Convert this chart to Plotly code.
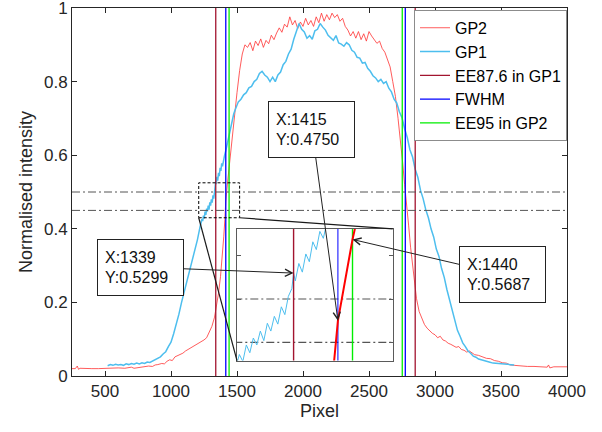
import plotly.graph_objects as go

# ---------------- data ----------------
gp2_x = [
    250, 275, 290, 300, 310, 350, 400, 450, 500, 550,
    600, 650, 700, 720, 750, 800, 830, 860, 880, 900,
    930, 950, 970, 990, 1010, 1030, 1050, 1070, 1090, 1110,
    1130, 1150, 1170, 1190, 1210, 1230, 1250, 1270, 1290, 1310,
    1330, 1345, 1360, 1375, 1390, 1400, 1408, 1415, 1428, 1440,
    1452, 1465, 1480, 1500, 1520, 1540,
    1560, 1580, 1600, 1620, 1640, 1660, 1680, 1700, 1720, 1740,
    1760, 1780, 1800, 1820, 1840, 1860, 1880, 1900, 1920, 1940,
    1960, 1980, 2000, 2020, 2040, 2060, 2080, 2100, 2120, 2140,
    2160, 2180, 2200, 2220, 2240, 2260, 2280, 2300, 2320, 2340,
    2360, 2380, 2400, 2420, 2440, 2460, 2480, 2500, 2520, 2540,
    2560, 2580, 2600, 2620, 2640,
    2660, 2680, 2700, 2720, 2740, 2755, 2770, 2785, 2800, 2815,
    2830, 2845, 2860, 2880, 2900, 2920, 2940, 2960, 2980, 3000,
    3020, 3040, 3060, 3080, 3100, 3120, 3140, 3160, 3180, 3200,
    3220, 3240, 3260, 3280, 3300, 3330, 3360, 3390, 3420, 3450,
    3480, 3510, 3540, 3570, 3600, 3650, 3700, 3750, 3800, 3850,
    3860, 3870, 3900, 3950, 4000]
gp2_y = [
    0.020, 0.020, 0.027, 0.018, 0.021, 0.020, 0.020, 0.020, 0.021, 0.020,
    0.022, 0.021, 0.024, 0.021, 0.023, 0.025, 0.027, 0.026, 0.030, 0.031,
    0.034, 0.033, 0.040, 0.044, 0.042, 0.052, 0.055, 0.060, 0.062, 0.068,
    0.072, 0.076, 0.081, 0.085, 0.088, 0.094, 0.098, 0.104, 0.118, 0.135,
    0.160, 0.190, 0.225, 0.270, 0.330, 0.380, 0.425, 0.475, 0.525, 0.5687,
    0.605, 0.650, 0.700, 0.770, 0.830, 0.875,
    0.900, 0.893, 0.906, 0.884, 0.910, 0.898, 0.916, 0.893, 0.912, 0.903,
    0.926, 0.914, 0.932, 0.946, 0.934, 0.956, 0.948, 0.976, 0.954, 0.966,
    0.944, 0.962, 0.950, 0.972, 0.954, 0.966, 0.950, 0.976, 0.960, 0.986,
    0.964, 0.982, 0.968, 0.986, 0.974, 0.982, 0.964, 0.972, 0.950, 0.940,
    0.924, 0.936, 0.918, 0.936, 0.914, 0.930, 0.910, 0.936, 0.924, 0.914,
    0.904, 0.910, 0.890, 0.880, 0.860,
    0.840, 0.800, 0.760, 0.700, 0.640, 0.580, 0.520, 0.470, 0.410, 0.350,
    0.300, 0.250, 0.210, 0.175, 0.155, 0.140, 0.130, 0.122, 0.116, 0.112,
    0.104, 0.108, 0.098, 0.095, 0.089, 0.086, 0.082, 0.078, 0.080, 0.072,
    0.070, 0.065, 0.068, 0.062, 0.058, 0.056, 0.051, 0.048, 0.047, 0.042,
    0.040, 0.036, 0.035, 0.030, 0.029, 0.027, 0.026, 0.026, 0.025, 0.024,
    0.030, 0.022, 0.025, 0.025, 0.025]

gp1_x = [
    520, 540, 560, 580, 600, 620, 640, 660, 680, 700,
    720, 740, 760, 780, 800, 820, 840, 860, 880, 900,
    920, 940, 960, 980, 1000, 1020, 1040, 1060, 1080, 1100,
    1120, 1140, 1160, 1180, 1200, 1220,
    1228, 1234, 1240, 1246, 1252, 1258, 1264, 1270, 1276, 1282,
    1288, 1294, 1300, 1306, 1312, 1318, 1324, 1330, 1336, 1339,
    1342, 1348, 1354, 1360, 1366, 1372, 1378, 1384, 1390, 1396,
    1405, 1415, 1425, 1435, 1445, 1455, 1465, 1475, 1485, 1495,
    1510, 1530, 1550, 1570, 1590, 1610, 1630, 1650, 1670, 1690,
    1710, 1730, 1750, 1770, 1790, 1810, 1830, 1850, 1870, 1890,
    1910, 1930, 1950, 1970, 1990, 2010, 2030, 2050, 2070, 2090,
    2110, 2130, 2150, 2170, 2190, 2210, 2230, 2250, 2270, 2290,
    2310, 2330, 2350, 2370, 2390, 2410, 2430, 2450, 2470, 2490,
    2510, 2530, 2550, 2570, 2590, 2610, 2630, 2650, 2670, 2690,
    2710, 2730, 2750, 2770, 2790, 2810, 2830, 2850, 2870, 2890,
    2910, 2930, 2950, 2970, 2990, 3010, 3030, 3050, 3070, 3090,
    3110, 3130, 3150, 3170, 3190, 3210, 3230, 3250, 3270, 3290,
    3310, 3330, 3350, 3380, 3410, 3440, 3470, 3500, 3530, 3560,
    3590, 3600]
gp1_y = [
    0.028, 0.031, 0.029, 0.032, 0.030, 0.031, 0.029, 0.033, 0.031, 0.034,
    0.032, 0.035, 0.033, 0.036, 0.034, 0.038, 0.037, 0.041, 0.043, 0.048,
    0.052, 0.060, 0.066, 0.080, 0.092, 0.115, 0.140, 0.168, 0.200, 0.228,
    0.255, 0.283, 0.312, 0.342, 0.370, 0.405,
    0.418, 0.426, 0.421, 0.436, 0.428, 0.447, 0.438, 0.455, 0.447, 0.463,
    0.452, 0.472, 0.463, 0.480, 0.471, 0.491, 0.482, 0.503, 0.512, 0.5299,
    0.521, 0.541, 0.531, 0.552, 0.543, 0.566, 0.557, 0.578, 0.570, 0.588,
    0.598, 0.612, 0.628, 0.648, 0.668, 0.684, 0.700, 0.712, 0.722, 0.732,
    0.745, 0.752, 0.764, 0.770, 0.783, 0.787, 0.800, 0.806, 0.822, 0.828,
    0.818, 0.812, 0.800, 0.812, 0.800, 0.818, 0.826, 0.846, 0.855, 0.875,
    0.888, 0.915, 0.935, 0.958, 0.942, 0.935, 0.918, 0.925, 0.915, 0.938,
    0.942, 0.958, 0.948, 0.940, 0.926, 0.920, 0.912, 0.925, 0.905, 0.902,
    0.896, 0.906, 0.900, 0.885, 0.880, 0.866, 0.864, 0.850, 0.852, 0.836,
    0.828, 0.816, 0.810, 0.800, 0.806, 0.795, 0.800, 0.782, 0.772, 0.752,
    0.742, 0.718, 0.702, 0.672, 0.648, 0.615, 0.595, 0.562, 0.540, 0.505,
    0.482, 0.452, 0.430, 0.400, 0.378, 0.345, 0.325, 0.292, 0.268, 0.235,
    0.208, 0.175, 0.150, 0.124, 0.108, 0.090, 0.080, 0.068, 0.062, 0.054,
    0.051, 0.046, 0.044, 0.040, 0.038, 0.035, 0.034, 0.032, 0.032, 0.030,
    0.030, 0.030]

ee876_x = [1339, 2850]      # EE87.6 in GP1
fwhm_x = [1415, 2775]       # FWHM
ee95_x = [1440, 2752]       # EE95 in GP2
h_levels = [0.5, 0.45]

tip_x = [1339, 1415, 1440]
tip_y = [0.5299, 0.4750, 0.5687]

x_range = [250, 4000]
y_range = [0, 1]
x_ticks = [500, 1000, 1500, 2000, 2500, 3000, 3500, 4000]
y_ticks = [0, 0.2, 0.4, 0.6, 0.8, 1]
y_ticklabels = ["0", "0.2", "0.4", "0.6", "0.8", "1"]

zoom_box = [1210, 1520, 0.43, 0.525]          # dashed rectangle (data coords)
inset_x_range = [1242, 1509]
inset_y_range = [0.429, 0.581]
inset_place = [1500, 2680, 0.042, 0.40]        # inset location in main data coords

# ---------------- colours ----------------
C_GP2 = "#ff0000"
C_GP1 = "#4DBEEE"
C_EE876 = "#A2142F"
C_FWHM = "#0000ff"
C_EE95 = "#00ee00"
C_AX = "#262626"
C_DD = "#555555"

AXFONT = "Liberation Sans, Arial, sans-serif"
TIPFONT = "Liberation Sans, Arial, sans-serif"


def vlines(xs, y0, y1):
    X, Y = [], []
    for v in xs:
        X += [v, v, None]
        Y += [y0, y1, None]
    return X, Y


fig = go.Figure()

# main plot
fig.add_trace(go.Scatter(x=gp2_x, y=gp2_y, mode="lines", name="GP2",
                         line=dict(color=C_GP2, width=0.8), opacity=0.8))
fig.add_trace(go.Scatter(x=gp1_x, y=gp1_y, mode="lines", name="GP1",
                         line=dict(color=C_GP1, width=1.5)))
for xs, nm, col in [(ee876_x, "EE87.6 in GP1", C_EE876),
                    (fwhm_x, "FWHM", C_FWHM),
                    (ee95_x, "EE95 in GP2", C_EE95)]:
    vx, vy = vlines(xs, y_range[0], y_range[1])
    fig.add_trace(go.Scatter(x=vx, y=vy, mode="lines", name=nm,
                             line=dict(color=col, width=1.3)))
for h in h_levels:
    fig.add_trace(go.Scatter(x=x_range, y=[h, h], mode="lines", showlegend=False,
                             hoverinfo="skip",
                             line=dict(color=C_DD, width=1, dash="8px,3px,2px,3px")))

# inset
for h in h_levels:
    fig.add_trace(go.Scatter(x=x_range, y=[h, h], mode="lines", showlegend=False,
                             xaxis="x2", yaxis="y2",
                             line=dict(color=C_DD, width=1.2, dash="8px,3px,2px,3px")))
fig.add_trace(go.Scatter(x=gp1_x, y=gp1_y, mode="lines", showlegend=False,
                         xaxis="x2", yaxis="y2", line=dict(color=C_GP1, width=1)))
for xs, col, w in [(ee876_x, C_EE876, 1.4), (fwhm_x, C_FWHM, 1), (ee95_x, C_EE95, 1.4)]:
    vx, vy = vlines(xs, y_range[0], y_range[1])
    fig.add_trace(go.Scatter(x=vx, y=vy, mode="lines", showlegend=False,
                             xaxis="x2", yaxis="y2", line=dict(color=col, width=w)))
fig.add_trace(go.Scatter(x=gp2_x, y=gp2_y, mode="lines", showlegend=False,
                         xaxis="x2", yaxis="y2", line=dict(color=C_GP2, width=2)))


def fx(v):
    return (v - x_range[0]) / (x_range[1] - x_range[0])


def fy(v):
    return (v - y_range[0]) / (y_range[1] - y_range[0])


ax_common = dict(showgrid=False, zeroline=False, showline=True, mirror="ticks",
                 linecolor=C_AX, linewidth=1, ticks="inside", ticklen=5,
                 tickcolor=C_AX, automargin=False, ticklabeloverflow="allow",
                 tickfont=dict(family=AXFONT, size=17, color=C_AX))

fig.update_layout(
    width=602, height=432,
    margin=dict(l=72, r=35, t=8, b=56),
    paper_bgcolor="white", plot_bgcolor="white",
    showlegend=True,
    legend=dict(x=1, xanchor="right", y=0.995, yanchor="top",
                bgcolor="white", bordercolor="#8c8c8c", borderwidth=1,
                font=dict(family=AXFONT, size=16, color="#000"),
                tracegroupgap=0, itemwidth=30),
    xaxis=dict(range=x_range, tickvals=x_ticks, domain=[0, 1],
               title=dict(text="Pixel", font=dict(family=AXFONT, size=18, color=C_AX),
                          standoff=2),
               **ax_common),
    yaxis=dict(range=y_range, tickvals=y_ticks, ticktext=y_ticklabels, domain=[0, 1],
               title=dict(text="Normalised intensity",
                          font=dict(family=AXFONT, size=18, color=C_AX), standoff=6),
               **ax_common),
    xaxis2=dict(domain=[fx(inset_place[0]), fx(inset_place[1])], anchor="y2",
                range=inset_x_range, showgrid=False, zeroline=False, showline=True,
                mirror=True, linecolor="#5a5a5a", linewidth=1.3, ticks="",
                showticklabels=False, automargin=False),
    yaxis2=dict(domain=[fy(inset_place[2]), fy(inset_place[3])], anchor="x2",
                range=inset_y_range, showgrid=False, zeroline=False, showline=True,
                mirror="ticks", linecolor="#5a5a5a", linewidth=1.3, ticks="inside",
                ticklen=4, tickcolor="#5a5a5a", tick0=0, dtick=0.05,
                showticklabels=False, automargin=False),
    shapes=[
        dict(type="rect", xref="x", yref="y", x0=zoom_box[0], x1=zoom_box[1],
             y0=zoom_box[2], y1=zoom_box[3], line=dict(color="#000", width=1, dash="3px,2px")),
        dict(type="line", xref="x", yref="y", x0=zoom_box[0], y0=zoom_box[2],
             x1=inset_place[0], y1=inset_place[2], line=dict(color="#1a1a1a", width=1.2)),
        dict(type="line", xref="x", yref="y", x0=zoom_box[1], y0=zoom_box[2],
             x1=inset_place[1], y1=inset_place[3], line=dict(color="#1a1a1a", width=1.2)),
    ],
)

# data tips (arrow tail offsets in pixels)
tip_offsets = [(-153, -6), (-26, -191), (150, 35)]
for tx, ty, (ox, oy) in zip(tip_x, tip_y, tip_offsets):
    fig.add_annotation(
        xref="x2", yref="y2", x=tx, y=ty, ax=ox, ay=oy,
        text=f"X:{tx}<br>Y:{ty:.4f}", showarrow=True, arrowhead=5, arrowsize=1.4,
        arrowwidth=1, arrowcolor="#222", standoff=0,
        font=dict(family=TIPFONT, size=16, color="#111"),
        align="left", width=71, height=41, borderpad=7,
        bgcolor="white", bordercolor="#222", borderwidth=1,
    )

fig.write_html("out.html", config={"displayModeBar": False},
               post_script="document.body.style.margin='0px';document.body.style.overflow='hidden';")
